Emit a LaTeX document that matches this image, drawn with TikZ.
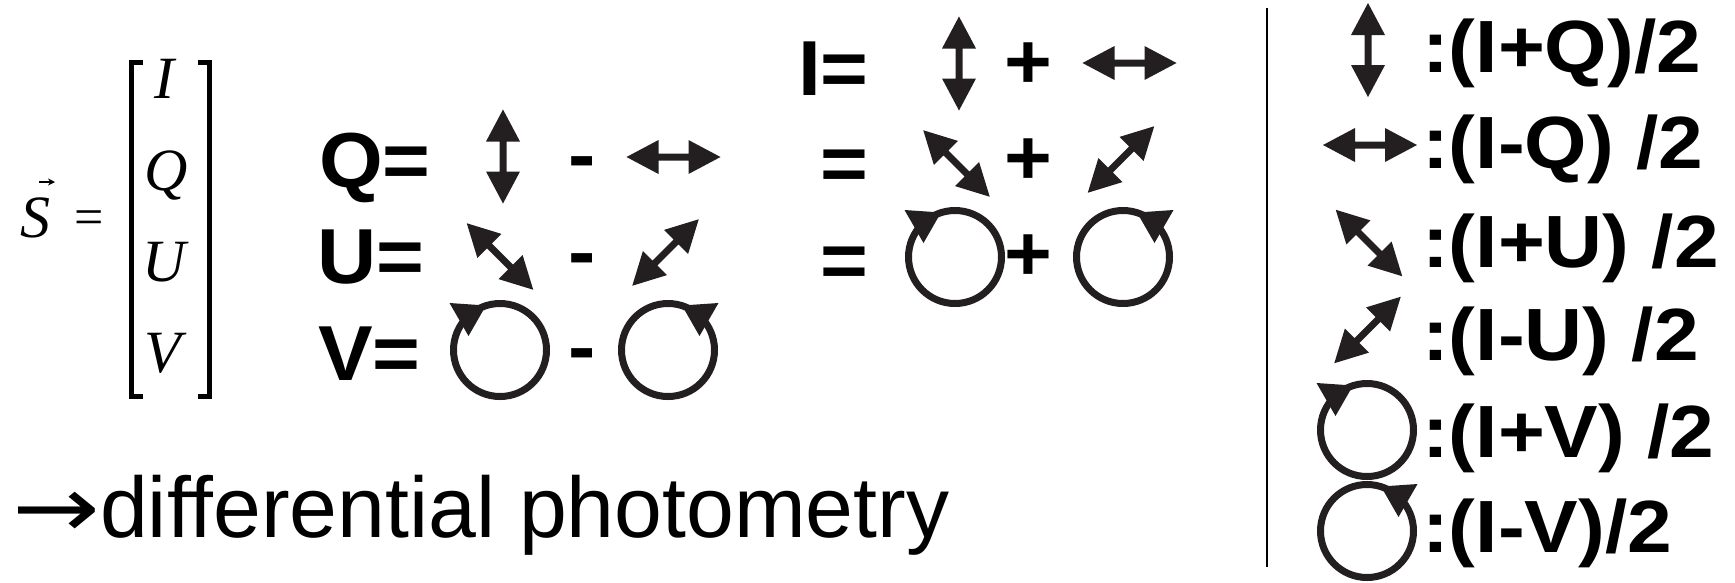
\documentclass[tikz,border=0pt]{standalone}
\usepackage{fontspec}
\usetikzlibrary{arrows.meta}
\setmainfont{Liberation Sans}
\newfontfamily\sansw{Liberation Sans}[FakeStretch=1.05]
\newfontfamily\sanswc{Liberation Sans}[FakeStretch=1.085]
\newfontfamily\serifit{Liberation Serif}
\newfontfamily\arrowfont{DejaVu Sans}[FakeStretch=1.22]
\definecolor{ink}{RGB}{35,31,32}
\begin{document}
\begin{tikzpicture}[x=1pt,y=-1pt,
  % double-headed polarisation arrow (vertical; rotate for other angles)
  pol/.pic={\fill[ink] (0,-47) -- (17,-15) -- (3.5,-15) -- (3.5,15) -- (17,15)
            -- (0,47) -- (-17,15) -- (-3.5,15) -- (-3.5,-15) -- (-17,-15) -- cycle;},
  % circular polarisation, head at upper left
  rcp/.pic={\draw[ink,line width=7pt] (0,0) circle[radius=46.5pt];
            \fill[ink] (-50.5,-47) -- (-14,-44.5) -- (-31.5,-14) -- cycle;},
  % circular polarisation, head at upper right
  lcp/.pic={\draw[ink,line width=7pt] (0,0) circle[radius=46.5pt];
            \fill[ink] (50.5,-47) -- (14,-44.5) -- (31.5,-14) -- cycle;},
  mid/.style={font=\sansw\bfseries\fontsize{78}{80}\selectfont, inner sep=0pt, anchor=base west},
  col/.style={font=\sanswc\bfseries\fontsize{74}{76}\selectfont, inner sep=0pt, anchor=base west},
  mat/.style={font=\serifit\itshape\fontsize{60}{62}\selectfont, inner sep=0pt, anchor=base},
  brk/.style={line width=5pt, line join=miter}
]
\useasboundingbox (0,0) rectangle (1735,582);

% Stokes vector
\node[mat, anchor=base west] (S) at (20,237) {S};
\coordinate (vecL) at (39,182);
\coordinate (vecR) at (55,182);
\draw[line width=2pt, -{Stealth[length=7pt,width=7pt]}] (vecL) -- (vecR);
\node[font=\serifit\fontsize{52}{54}\selectfont, inner sep=0pt, anchor=base west] (eqS) at (74,234) {=};
\draw[brk] (143,62) -- (131,62) -- (131,396) -- (143,396);
\draw[brk] (198,62) -- (209.5,62) -- (209.5,396) -- (198,396);
\node[mat] (mI) at (164,98) {I};
\node[mat] (mQ) at (166,190) {Q};
\node[mat] (mU) at (164,281) {U};
\node[mat] (mV) at (163,372) {V};

% Q, U, V as differences
\node[mid] (Qeq) at (319,187) {Q=};
\node[mid] (Ueq) at (317,283) {U=};
\node[mid] (Veq) at (318,380) {V=};
\node[mid] (mq) at (568,181) {-};
\node[mid] (mu) at (568,278) {-};
\node[mid] (mv) at (568,373) {-};
\pic at (503,156.5) {pol};
\pic[rotate=90] at (673.5,157) {pol};
\pic[rotate=45] at (500,256.5) {pol};
\pic[rotate=-45] at (665.5,252.5) {pol};
\pic at (500,350) {rcp};
\pic at (668,350) {lcp};

% I as sums
\node[mid] (Ieq) at (798,95) {I=};
\node[mid] (eq2) at (820,190) {=};
\node[mid] (eq3) at (820,287) {=};
\node[mid] (p1) at (1004,88) {+};
\node[mid] (p2) at (1004,184) {+};
\node[mid] (p3) at (1004,280) {+};
\pic at (959,63.5) {pol};
\pic[rotate=90] at (1129.5,63) {pol};
\pic[rotate=45] at (956.5,163.5) {pol};
\pic[rotate=-45] at (1121,159.5) {pol};
\pic at (955,257) {rcp};
\pic at (1123,257) {lcp};

\node[font=\fontsize{86}{88}\selectfont, inner sep=0pt, anchor=base west] (dp) at (12,537) {{\arrowfont →}differential photometry};

% separator
\coordinate (sepT) at (1267,8);
\coordinate (sepB) at (1267,567);
\draw[line width=2.5pt] (sepT) -- (sepB);

% single-state intensities
\pic at (1368,50) {pol};
\pic[rotate=90] at (1370,145) {pol};
\pic[rotate=45] at (1369,243) {pol};
\pic[rotate=-45] at (1367.5,330) {pol};
\pic at (1367,430) {rcp};
\pic at (1367,531) {lcp};
\node[col] (r1) at (1422,72) {:(I+Q)/2};
\node[col] (r2) at (1422,168) {:(I-Q) /2};
\node[col] (r3) at (1422,267) {:(I+U) /2};
\node[col] (r4) at (1422,360) {:(I-U) /2};
\node[col] (r5) at (1422,457) {:(I+V) /2};
\node[col] (r6) at (1422,552) {:(I-V)/2};
\end{tikzpicture}
\end{document}
